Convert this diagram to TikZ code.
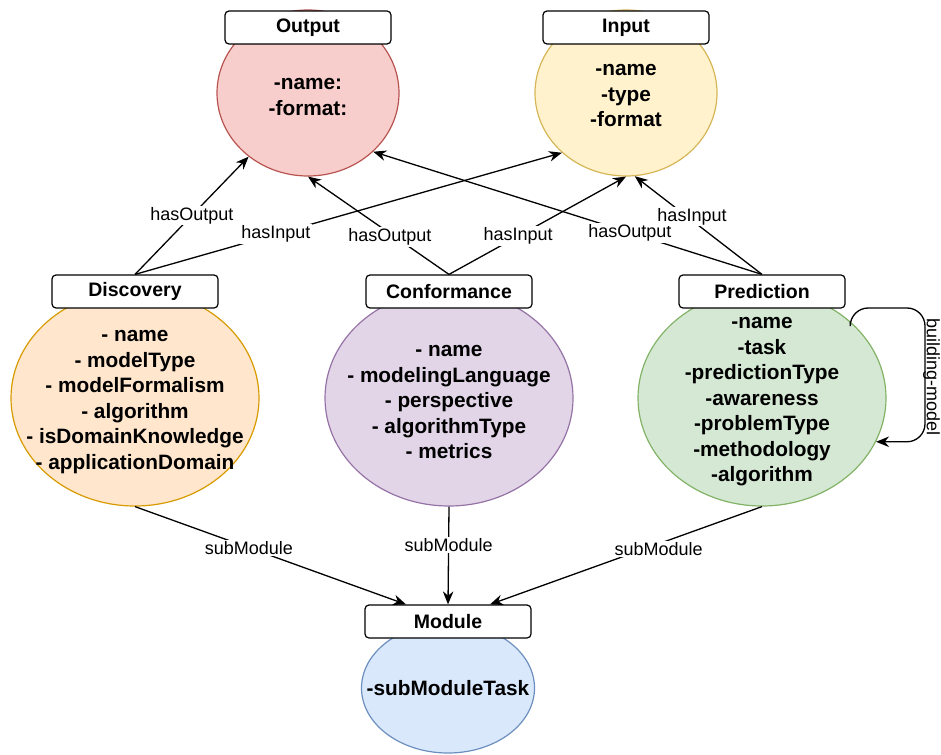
\documentclass[tikz,border=0pt]{standalone}
\usepackage{fontspec}
\setmainfont{Liberation Sans}
\usepackage{tikz}
\usetikzlibrary{arrows.meta,shapes.geometric}
\definecolor{outfill}{HTML}{F8CECC}\definecolor{outline}{HTML}{B85450}
\definecolor{infill}{HTML}{FFF2CC}\definecolor{inline}{HTML}{D6B656}
\definecolor{discfill}{HTML}{FFE6CC}\definecolor{discline}{HTML}{D79B00}
\definecolor{conffill}{HTML}{E1D5E7}\definecolor{confline}{HTML}{9673A6}
\definecolor{predfill}{HTML}{D5E8D4}\definecolor{predline}{HTML}{82B366}
\definecolor{modfill}{HTML}{DAE8FC}\definecolor{modline}{HTML}{6C8EBF}

\begin{document}
\begin{tikzpicture}
      [x=1pt, y=-1pt,
        oval/.style={ellipse, draw, line width=1.2pt, inner sep=0pt},
        body/.style={align=center, inner sep=0pt, font=\fontsize{20.8}{25.5}\selectfont\bfseries},
        namebox/.style={draw, fill=white, rounded corners=4pt, line width=1.2pt,
          minimum width=166pt, minimum height=33pt, inner sep=0pt,
          font=\fontsize{19.5}{23}\selectfont\bfseries},
        arr/.style={-{Stealth[length=13pt,width=10.5pt]}, line width=1.3pt},
        lbl/.style={fill=white, inner sep=1.5pt, font=\fontsize{18}{20}\selectfont}]
      \useasboundingbox (0,0) rectangle (941,754);
      \node[oval, fill=outfill, draw=outline, minimum width=182pt, minimum height=166pt] (out) at (308,93) {};
      \node[oval, fill=infill, draw=inline, minimum width=182pt, minimum height=166pt] (in) at (626,93) {};
      \node[oval, fill=discfill, draw=discline, minimum width=248pt, minimum height=216pt] (disc) at (135,398) {};
      \node[oval, fill=conffill, draw=confline, minimum width=248pt, minimum height=216pt] (conf) at (449,398) {};
      \node[oval, fill=predfill, draw=predline, minimum width=248pt, minimum height=216pt] (pred) at (762,398) {};
      \node[oval, fill=modfill, draw=modline, minimum width=173pt, minimum height=130pt] (mod) at (448,688) {};
      \node[body, yshift=-4pt] (outTxt) at (out) {-name:\\-format:};
      \node[body, yshift=-3pt] (inTxt) at (in) {-name\\-type\\-format};
      \node[body, yshift=-4pt] (discTxt) at (disc) {- name\\- modelType\\- modelFormalism\\- algorithm\\- isDomainKnowledge\\- applicationDomain};
      \node[body, yshift=-4pt] (confTxt) at (conf) {- name\\- modelingLanguage\\- perspective\\- algorithmType\\- metrics};
      \node[body, yshift=-4pt] (predTxt) at (pred) {-name\\-task\\-predictionType\\-awareness\\-problemType\\-methodology\\-algorithm};
      \node[body] (modTxt) at (mod) {-subModuleTask};
      \node[namebox] (outT) at (308,27.5) {Output};
      \node[namebox] (inT) at (626,27.5) {Input};
      \node[namebox] (discT) at (135,291.5) {Discovery};
      \node[namebox] (confT) at (449,291.5) {Conformance};
      \node[namebox] (predT) at (762,291.5) {Prediction};
      \node[namebox] (modT) at (448,621.5) {Module};
      \draw[arr] (discT.north) -- node[lbl, pos=.5] {hasOutput} (out.227);
      \draw[arr] (discT.north) -- node[lbl, pos=.33] {hasInput} (in.223);
      \draw[arr] (confT.north) -- node[lbl, pos=.42, yshift=-4pt] {hasOutput} (out.south);
      \draw[arr] (confT.north) -- node[lbl, pos=.39] {hasInput} (in.south);
      \draw[arr] (predT.north) -- node[lbl, pos=.34] {hasOutput} (out.318);
      \draw[arr] (predT.north) -- node[lbl, pos=.55, yshift=4pt] {hasInput} (in.276);
      \coordinate (modL) at ([xshift=-42pt]modT.north);
      \coordinate (modR) at ([xshift=42pt]modT.north);
      \draw[arr] (disc.south) -- node[lbl, pos=.42] {subModule} (modL);
      \draw[arr] (conf.south) -- node[lbl, pos=.39] {subModule} (modT.north);
      \draw[arr] (pred.south) -- node[lbl, pos=.38, yshift=-5pt] {subModule} (modR);
      \coordinate (loopTop) at (925,308);
      \draw[arr, rounded corners=18pt] (pred.41) |- (loopTop) |- (pred.339);
      \node[rotate=-90, anchor=north, inner sep=0pt, font=\fontsize{18}{20}\selectfont] (loopLbl) at (940,377) {building-model};
    \end{tikzpicture}
\end{document}
